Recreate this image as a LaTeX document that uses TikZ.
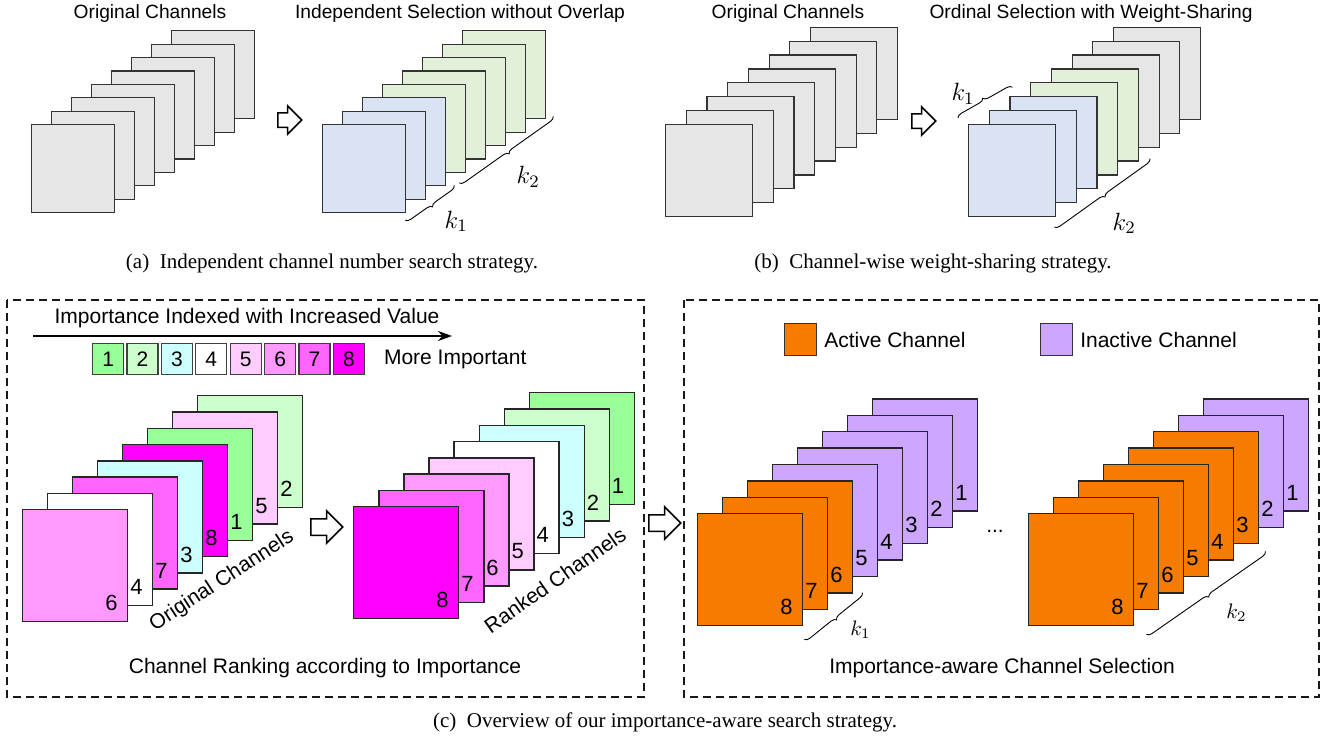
\RequirePackage{fix-cm}
\documentclass[tikz,border=0pt]{standalone}
\usepackage{fontspec}
\setmainfont{Liberation Serif}
\setsansfont{Liberation Sans}
\usetikzlibrary{positioning, calc, arrows.meta, shapes.arrows, decorations.pathreplacing}

\definecolor{chgrey}{HTML}{E7E6E6}
\definecolor{chblue}{HTML}{DAE3F3}
\definecolor{chgreen}{HTML}{E2F0D9}
\definecolor{imp1}{HTML}{99FF99}
\definecolor{imp2}{HTML}{CCFFCC}
\definecolor{imp3}{HTML}{CCFFFF}
\definecolor{imp4}{HTML}{FFFFFF}
\definecolor{imp5}{HTML}{FFCCFF}
\definecolor{imp6}{HTML}{FF99FF}
\definecolor{imp7}{HTML}{FF66FF}
\definecolor{imp8}{HTML}{FF00FF}
\definecolor{actch}{HTML}{F57C00}
\definecolor{inactch}{HTML}{CCA6FF}

\tikzset{
	chan/.style={draw=black!80, line width=0.6pt, anchor=north west, inner sep=0pt}, % one feature map
	smallch/.style={chan, minimum width=41.5pt, minimum height=44pt}, % maps of (a)
	midch/.style={chan, minimum width=43.5pt, minimum height=46pt}, % maps of (b)
	bigch/.style={chan, draw=black!85, line width=0.7pt, minimum width=52.5pt, minimum height=56pt}, % maps of (c)
	chnum/.style={font=\sffamily\fontsize{11}{11}\selectfont, inner sep=0pt}, % channel index
	title/.style={font=\sffamily\fontsize{9.6}{11}\selectfont},
	ctitle/.style={font=\sffamily\fontsize{10.5}{12}\selectfont},
	subcap/.style={font=\fontsize{10.5}{12}\selectfont},
	klab/.style={font=\fontsize{12.5}{14}\selectfont, inner sep=0pt},
	sklab/.style={font=\fontsize{10.5}{12}\selectfont, inner sep=0pt},
	hollow/.style={single arrow, draw=black, line width=0.75pt, fill=white,
		inner sep=3.25pt, minimum height=12pt, single arrow head extend=3.5pt}, % white block arrow
	bighollow/.style={hollow, inner sep=3.75pt, minimum height=16pt, single arrow head extend=4pt},
	brc/.style={decorate, decoration={brace, amplitude=2.5pt}, line width=0.45pt},
	dashbox/.style={draw=black!90, line width=0.7pt, dash pattern=on 4pt off 2.5pt},
	legbox/.style={draw=black!75, line width=0.6pt, anchor=north west, minimum size=15.5pt, inner sep=0pt,
		font=\sffamily\fontsize{10.5}{12}\selectfont},
	legch/.style={draw=black!80, line width=0.6pt, anchor=north west, minimum size=16pt, inner sep=0pt},
}

\begin{document}
\begin{tikzpicture}[x=0.5pt, y=-0.5pt]
	\useasboundingbox (0,0) rectangle (1331,738);
	
	% (a) independent search
	\node[title] (aorig) at (150,14) {Original Channels};
	\foreach \i in {7,...,0}
		\node[smallch, fill=chgrey] (a\i) at (31+20*\i, 124-13.4*\i) {};
	\node[hollow, anchor=tail] (aarr) at (277,120) {};
	\node[title] (asel) at (460,14) {Independent Selection without Overlap};
	\foreach \i in {7,...,0}{
		\ifnum\i<3 \def\cl{chblue}\else\def\cl{chgreen}\fi
		\node[smallch, fill=\cl] (as\i) at (322+20*\i, 124-13.4*\i) {};
	}
	\draw[brc] ($(as2.south east)+(8,-1)$) -- ($(as0.south east)+(-1,7)$);
	\draw[brc] ($(as7.south east)+(7,-3)$) -- ($(as3.south east)+(-7,10)$);
	\node[klab] (ak1) at ($(as0.south east)+(50,8)$) {$k_1$};
	\node[klab] (ak2) at ($(as3.south east)+(62,4)$) {$k_2$};
	\node[subcap] (acap) at (332,263) {(a)\enspace Independent channel number search strategy.};
	
	% (b) weight-sharing
	\node[title] (borig) at (788,14) {Original Channels};
	\foreach \i in {7,...,0}
		\node[midch, fill=chgrey] (b\i) at (665+20.7*\i, 124-13.9*\i) {};
	\node[hollow, anchor=tail] (barr) at (911,121) {};
	\node[title] (bsel) at (1091,14) {Ordinal Selection with Weight-Sharing};
	\foreach \i in {7,...,0}{
		\ifnum\i<3 \def\cl{chblue}\else\ifnum\i<5 \def\cl{chgreen}\else\def\cl{chgrey}\fi\fi
		\node[midch, fill=\cl] (bs\i) at (968+20.7*\i, 124-13.9*\i) {};
	}
	\draw[brc] ($(bs0.north west)+(-10,-6)$) -- ($(bs2.north west)+(3,-9)$);
	\draw[brc] ($(bs4.south east)+(11,-3)$) -- ($(bs0.south east)+(-2,10)$);
	\node[klab] (bk1) at ($(bs0.north west)+(-5,-30)$) {$k_1$};
	\node[klab] (bk2) at ($(bs0.south east)+(68,6)$) {$k_2$};
	\node[subcap] (bcap) at (933,263) {(b)\enspace Channel-wise weight-sharing strategy.};
	
	% (c) left: ranking
	\draw[dashbox] (7,300) rectangle (644,697);
	\node[ctitle] (imptitle) at (247,318) {Importance Indexed with Increased Value};
	\coordinate (impL) at (33,336);
	\coordinate (impR) at (452,336);
	\draw[line width=1.1pt, -{Stealth[length=7pt, width=5pt]}] (impL) -- (impR);
	\foreach \v in {1,...,8}
		\node[legbox, fill=imp\v] (leg\v) at (92+34.4*\v-34.4, 343) {\v};
	\node[ctitle, right=6pt of leg8] (moreimp) {More Important};
	
	\foreach \v [count=\j from 0] in {2,5,1,8,3,7,4,6}{
		\pgfmathtruncatemacro\p{7-\j}
		\node[bigch, fill=imp\v] (o\v) at (22+25*\p, 509-16.3*\p) {};
		\node[chnum] at ($(o\v.south east)+(-17,-19)$) {\v};
	}
	\node[ctitle, rotate=33] (origlbl) at (222,581) {Original Channels};
	\node[bighollow, anchor=tail] (carr1) at (310,527) {};
	\foreach \v in {1,...,8}{
		\pgfmathtruncatemacro\p{8-\v}
		\node[bigch, fill=imp\v] (r\v) at (353+25.1*\p, 506-16.3*\p) {};
		\node[chnum] at ($(r\v.south east)+(-17,-19)$) {\v};
	}
	\node[ctitle, rotate=35] (ranklbl) at (555,580) {Ranked Channels};
	\node[ctitle] (ranktitle) at (325,668) {Channel Ranking according to Importance};
	\node[bighollow, anchor=tail] (carr2) at (648,523) {};
	
	% (c) right: selection
	\draw[dashbox] (684,300) rectangle (1319,697);
	\node[legch, fill=actch] (actleg) at (784,323) {};
	\node[ctitle, right=0pt of actleg] (acttxt) {Active Channel};
	\node[legch, fill=inactch] (inleg) at (1040,323) {};
	\node[ctitle, right=0pt of inleg] (intxt) {Inactive Channel};
	
	\foreach \v in {1,...,8}{
		\pgfmathtruncatemacro\p{8-\v}
		\ifnum\v>5 \def\cl{actch}\else\def\cl{inactch}\fi
		\node[bigch, fill=\cl] (s\v) at (697+25*\p, 513-16.4*\p) {};
		\node[chnum] at ($(s\v.south east)+(-17,-19)$) {\v};
	}
	\node[ctitle] (dots) at (995,531) {...};
	\foreach \v in {1,...,8}{
		\pgfmathtruncatemacro\p{8-\v}
		\ifnum\v>2 \def\cl{actch}\else\def\cl{inactch}\fi
		\node[bigch, fill=\cl] (t\v) at (1028+25*\p, 513-16.4*\p) {};
		\node[chnum] at ($(t\v.south east)+(-17,-19)$) {\v};
	}
	\draw[brc] ($(s6.south east)+(9,-1)$) -- ($(s8.south east)+(1,13)$);
	\draw[brc] ($(t3.south east)+(6,7)$) -- ($(t8.south east)+(12,8)$);
	\node[sklab] (ck1) at ($(s8.south east)+(57,3)$) {$k_1$};
	\node[sklab] (ck2) at ($(t8.south east)+(102,-14)$) {$k_2$};
	\node[ctitle] (seltitle) at (1002,668) {Importance-aware Channel Selection};
	
	\node[subcap] (ccap) at (665,722) {(c)\enspace Overview of our importance-aware search strategy.};
\end{tikzpicture}
\end{document}
